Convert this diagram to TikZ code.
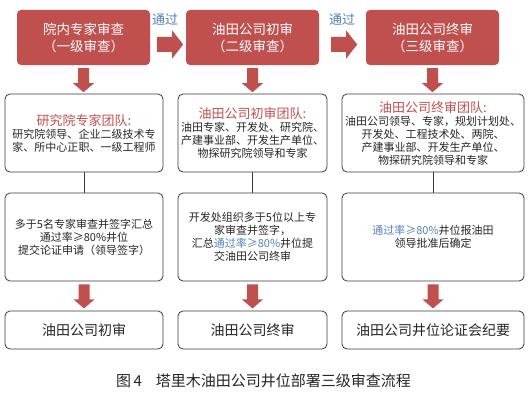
\documentclass[tikz,border=0pt]{standalone}
\usepackage{fontspec}
\setmainfont{Noto Sans CJK SC}
\usetikzlibrary{calc}
\definecolor{myred}{HTML}{C0504D}
\definecolor{myblue}{HTML}{4F81BD}
\definecolor{boxline}{HTML}{3A3A3A}
\definecolor{txt}{HTML}{262626}
\newcommand{\hl}[1]{\textcolor{myblue}{#1}}
\newcommand{\ttl}[1]{{\fontsize{13}{14}\selectfont\textcolor{myred}{#1}}}
\tikzset{
  redbox/.style={fill=myred, rounded corners=4pt, text=white, align=center,
    inner sep=0pt, minimum width=133pt, minimum height=55pt,
    font=\fontsize{13.5}{17}\selectfont},
  wbox/.style={draw=boxline, line width=0.8pt, rounded corners=5pt, fill=white,
    text=txt, align=center, inner sep=0pt},
  teambox/.style={wbox, minimum height=78pt, font=\fontsize{11}{13}\selectfont},
  midbox/.style={wbox, minimum height=88pt, font=\fontsize{11}{13}\selectfont},
  endbox/.style={wbox, minimum height=38pt, font=\fontsize{14}{16}\selectfont},
  link/.style={draw=boxline, line width=0.8pt},
  passlabel/.style={text=myblue, font=\fontsize{13}{14}\selectfont, inner sep=0pt},
  downarrow/.pic={\fill[myred] (-5.5,0) -- (5.5,0) -- (5.5,15) -- (10.5,15) -- (0,24)
     -- (-10.5,15) -- (-5.5,15) -- cycle;},
  rightarrow/.pic={\fill[myred] (0,-7.5) -- (15,-7.5) -- (15,-14) -- (26,0)
     -- (15,14) -- (15,7.5) -- (0,7.5) -- cycle;}
}
\begin{document}
\begin{tikzpicture}[x=1pt,y=-1pt]
\useasboundingbox[fill=white] (0,0) rectangle (532,404);

% top red boxes
\node[redbox] (r1) at (83.5,37.5) {院内专家审查\\（一级审查）};
\node[redbox] (r2) at (252.5,37.5) {油田公司初审\\（二级审查）};
\node[redbox] (r3) at (432.5,37.5) {油田公司终审\\（三级审查）};

% right arrows with labels
\pic at ($(r1.east)+(7,7)$) {rightarrow};
\pic at ($(r2.east)+(12,7)$) {rightarrow};
\node[passlabel] (p1) at (165,20) {通过};
\node[passlabel] (p2) at (342,20) {通过};

% team boxes
\node[teambox, minimum width=158pt] (t1) at (84,133)
  {\ttl{研究院专家团队:}\\研究院领导、企业二级技术专\\家、所中心正职、一级工程师};
\node[teambox, minimum width=149pt] (t2) at (252.5,133)
  {\ttl{油田公司初审团队:}\\油田专家、开发处、研究院、\\产建事业部、开发生产单位、\\物探研究院领导和专家};
\node[teambox, minimum width=182pt] (t3) at (433,133)
  {\ttl{油田公司终审团队:}\\油田公司领导、专家，规划计划处、\\开发处、工程技术处、两院、\\产建事业部、开发生产单位、\\物探研究院领导和专家};

% middle boxes
\node[midbox, minimum width=158pt] (m1) at (84,237)
  {多于5名专家审查并签字汇总\\通过率≥80\%井位\\提交论证申请（领导签字）};
\node[midbox, minimum width=149pt] (m2) at (252.5,237)
  {开发处组织多于5位以上专\\家审查并签字，\\汇总\hl{通过率≥80\%}井位提\\交油田公司终审};
\node[midbox, minimum width=182pt] (m3) at (433,237)
  {\hl{通过率≥80\%}井位报油田\\领导批准后确定};

% bottom boxes
\node[endbox, minimum width=158pt] (e1) at (84,330) {油田公司初审};
\node[endbox, minimum width=149pt] (e2) at (252.5,330) {油田公司终审};
\node[endbox, minimum width=182pt] (e3) at (433,330) {油田公司井位论证会纪要};

% down arrows
\foreach \a in {r1,r2,r3} {\pic at ($(\a.south)+(0,3)$) {downarrow};}
\foreach \a in {m1,m2,m3} {\pic at ($(\a.south)+(0,3)$) {downarrow};}

% connectors
\draw[link] (t1.south) -- (m1.north);
\draw[link] (t2.south) -- (m2.north);
\draw[link] (t3.south) -- (m3.north);

% caption
\node[text=txt, font=\fontsize{15}{17}\selectfont, inner sep=0pt] (cap) at (263.5,381)
  {图\,4\hspace{14pt}塔里木油田公司井位部署三级审查流程};
\end{tikzpicture}
\end{document}
